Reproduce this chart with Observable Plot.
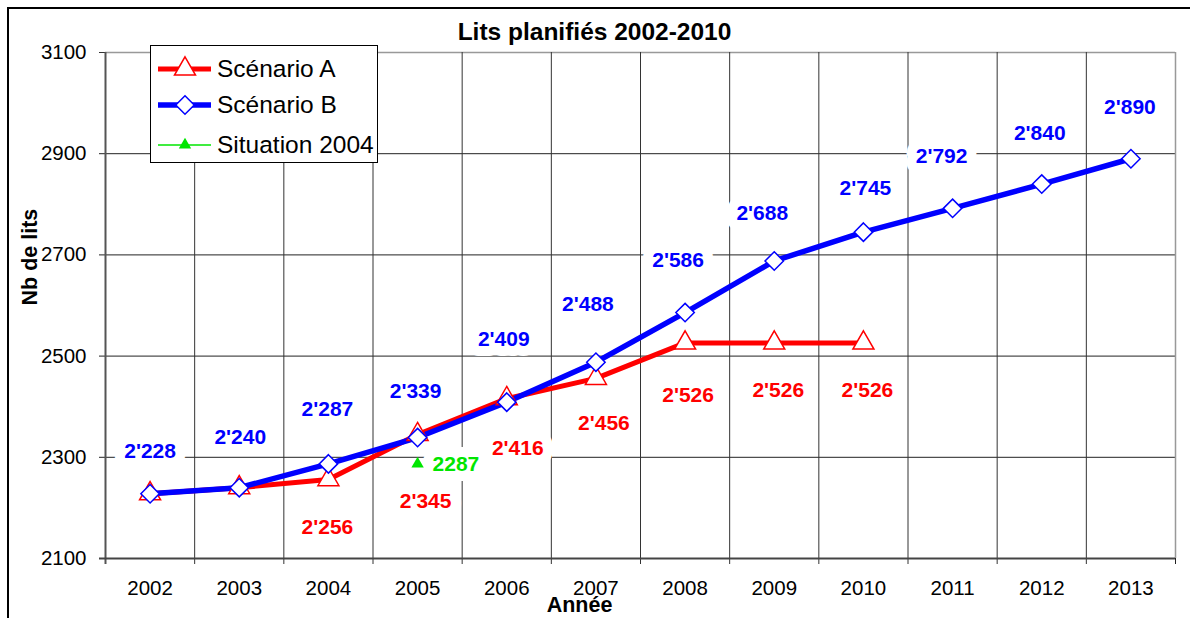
<!DOCTYPE html>
<html>
<head>
<meta charset="utf-8">
<script src="https://cdn.jsdelivr.net/npm/d3@7"></script>
<script src="https://cdn.jsdelivr.net/npm/@observablehq/plot@0.6"></script>
<style>
  html, body { margin: 0; padding: 0; background: #fff; }
  #wrap { position: relative; width: 1190px; height: 618px; overflow: hidden; font-family: "Liberation Sans", Arial, sans-serif; }
  #frame { position: absolute; left: 7px; top: 7px; width: 1200px; height: 630px; border-top: 2px solid #000; border-left: 2px solid #000; pointer-events: none; }
  #chart { position: absolute; left: 0; top: 0; }
  svg text { paint-order: stroke; }
  #legend { position: absolute; left: 150px; top: 45px; width: 226px; height: 116px; border: 1px solid #000; background: #fff; }
  .row { position: absolute; left: 0; height: 30px; display: flex; align-items: center; }
  .row svg { width: 64px; height: 30px; margin-left: 2px; }
  .row span { font-size: 24.5px; color: #000; margin-left: 0px; white-space: nowrap; }
</style>
</head>
<body>
<div id="wrap">
  <div id="chart"></div>
  <div id="frame"></div>
  <div id="legend"></div>
</div>
<script>
// ---- data ----
const years = [2002, 2003, 2004, 2005, 2006, 2007, 2008, 2009, 2010, 2011, 2012, 2013];
const yearsA = [2002, 2003, 2004, 2005, 2006, 2007, 2008, 2009, 2010];
const scenarioA = [2228, 2240, 2256, 2345, 2416, 2456, 2526, 2526, 2526];
const scenarioB = [2228, 2240, 2287, 2339, 2409, 2488, 2586, 2688, 2745, 2792, 2840, 2890];
const situationYears = [2005];
const situation2004 = [2287];
const yTicks = [2100, 2300, 2500, 2700, 2900, 3100];
const labelledAYears = [2004, 2005, 2006, 2007, 2008, 2009, 2010];
const seriesNames = ["Scénario A", "Scénario B", "Situation 2004"];
const title = "Lits planifiés 2002-2010";
const xTitle = "Année";
const yTitle = "Nb de lits";

// ---- label placement (styling, pixels) ----
const bLabelDx = [0, 1, -1, -2, -3, -8, -7, -12, 2, -11, -2, -1];
const bLabelDy = [-42, -50, -55, -46, -63, -58, -52, -48, -44, -52, -51, -51];
const aLabelDx = [-1, 8, 11, 8, 3, 4, 4];
const aLabelDy = [48, 67, 50, 45, 52, 47, 47];

const RED = "#ff0000", BLUE = "#0000ff", GREEN = "#00e600";
const fmt = v => Math.floor(v / 1000) + "'" + String(v % 1000).padStart(3, "0");

const dataA = yearsA.map((y, i) => ({year: y, value: scenarioA[i]}));
const dataB = years.map((y, i) => ({year: y, value: scenarioB[i]}));
const dataS = situationYears.map((y, i) => ({year: y, value: situation2004[i]}));
const bounds = years.map(y => y + 0.5);
const inner = bounds.slice(0, -1);
const x0 = years[0] - 0.5, x1 = years[years.length - 1] + 0.5;

const labelStyle = {fontSize: 21, fontWeight: "bold", stroke: "white", strokeWidth: 20, strokeLinejoin: "round"};

const bLabels = dataB.map((d, i) => Plot.text([d], {
  x: "year", y: "value", text: d => fmt(d.value), fill: BLUE, dx: bLabelDx[i], dy: bLabelDy[i], ...labelStyle
}));
const aLabels = labelledAYears.map((yr, i) => {
  const d = dataA.find(e => e.year === yr);
  return Plot.text([d], {
    x: "year", y: "value", text: d => fmt(d.value), fill: RED, dx: aLabelDx[i], dy: aLabelDy[i], ...labelStyle
  });
});

const plot = Plot.plot({
  width: 1190,
  height: 618,
  marginLeft: 105,
  marginRight: 15,
  marginTop: 52,
  marginBottom: 60,
  style: {fontFamily: "'Liberation Sans', Arial, sans-serif", fontSize: "20.5px", background: "transparent", color: "#000"},
  x: {domain: [x0, x1], ticks: years, tickFormat: d => String(d), tickSize: 0, tickPadding: 22, label: null},
  y: {domain: [yTicks[0], yTicks[yTicks.length - 1]], ticks: yTicks, tickFormat: d => String(d), tickSize: 0, tickPadding: 19, label: null},
  marks: [
    // grid
    Plot.ruleY(yTicks.slice(1, -1), {stroke: "#222", strokeWidth: 1, insetLeft: -6}),
    Plot.ruleY([yTicks[yTicks.length - 1]], {stroke: "#999", strokeWidth: 1.5}),
    Plot.ruleY([yTicks[yTicks.length - 1]], {x1: x0, x2: x0, insetLeft: -6, stroke: "#333"}),
    Plot.ruleX(inner, {stroke: "#333", strokeWidth: 1, insetBottom: -6}),
    Plot.ruleX([x1], {stroke: "#999", strokeWidth: 1.5}),
    Plot.ruleX([x1], {y1: yTicks[0], y2: yTicks[0], insetBottom: -6, stroke: "#222"}),
    Plot.ruleX([x0], {stroke: "#555", strokeWidth: 2, insetBottom: -6}),
    Plot.ruleY([yTicks[0]], {stroke: "#444", strokeWidth: 2, insetLeft: -6}),
    // labels
    ...bLabels,
    ...aLabels,
    Plot.text(dataS, {x: "year", y: "value", text: d => String(d.value), fill: GREEN, textAnchor: "start", dx: 15, ...labelStyle}),
    // lines
    Plot.line(dataA, {x: "year", y: "value", stroke: RED, strokeWidth: 5}),
    Plot.line(dataB, {x: "year", y: "value", stroke: BLUE, strokeWidth: 5.5}),
    Plot.dot(dataA, {x: "year", y: "value", symbol: d3.symbolTriangle, r: 7.8, stroke: RED, fill: "white", strokeWidth: 1.5}),
    Plot.dot(dataB, {x: "year", y: "value", symbol: d3.symbolDiamond2, r: 8.3, stroke: BLUE, fill: "white", strokeWidth: 1.5}),
    Plot.dot(dataS, {x: "year", y: "value", symbol: d3.symbolTriangle, r: 4.6, fill: GREEN, stroke: "none"}),
    // titles
    Plot.text([title], {text: d => d, frameAnchor: "top", lineAnchor: "middle", dx: -46, dy: -20, fontSize: 24.5, fontWeight: "bold"}),
    Plot.text([xTitle], {text: d => d, frameAnchor: "bottom", lineAnchor: "middle", dx: -61, dy: 47, fontSize: 21.5, fontWeight: "bold"}),
    Plot.text([yTitle], {text: d => d, frameAnchor: "left", dx: -75, rotate: -90, fontSize: 21.5, fontWeight: "bold"})
  ]
});
document.getElementById("chart").appendChild(plot);

// ---- legend ----
const legend = document.getElementById("legend");
const tri = d3.symbol(d3.symbolTriangle, Math.PI * 7.8 * 7.8)();
const dia = d3.symbol(d3.symbolDiamond2, Math.PI * 8.3 * 8.3)();
const triS = d3.symbol(d3.symbolTriangle, Math.PI * 4.6 * 4.6)();
const rows = [
  {name: seriesNames[0], top: 8, color: RED, w: 5, path: tri, fill: "white"},
  {name: seriesNames[1], top: 44, color: BLUE, w: 5.5, path: dia, fill: "white"},
  {name: seriesNames[2], top: 84, color: GREEN, w: 1.5, path: triS, fill: GREEN}
];
rows.forEach(r => {
  const div = document.createElement("div");
  div.className = "row";
  div.style.top = r.top + "px";
  div.innerHTML = `<svg viewBox="0 0 64 30"><line x1="5" x2="58" y1="15" y2="15" stroke="${r.color}" stroke-width="${r.w}"/>` +
    `<path d="${r.path}" transform="translate(32,15)" fill="${r.fill}" stroke="${r.fill === 'white' ? r.color : 'none'}" stroke-width="1.5"/></svg>` +
    `<span>${r.name}</span>`;
  legend.appendChild(div);
});
</script>
</body>
</html>
